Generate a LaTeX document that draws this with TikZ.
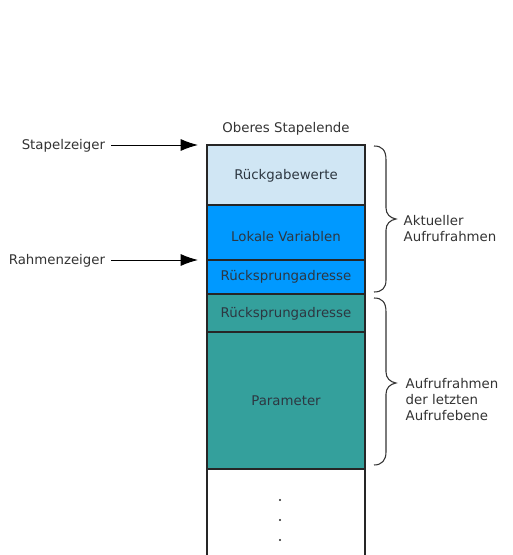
\documentclass[tikz,border=0pt]{standalone}
\usepackage{fontspec}
\setmainfont{DejaVu Sans}
\usetikzlibrary{arrows.meta}
\definecolor{hellblau}{RGB}{208,230,244}
\definecolor{blau}{RGB}{0,153,255}
\definecolor{petrol}{RGB}{52,160,156}
\definecolor{schrift}{RGB}{45,55,65}
\tikzset{
  feld/.style={draw=black!85,line width=0.8pt},
  feldtext/.style={font=\fontsize{10}{12}\selectfont,text=schrift},
  beschr/.style={font=\fontsize{10}{12}\selectfont,text=black!80,align=left},
  zeiger/.style={-{Latex[length=13pt,width=9pt]},line width=0.7pt,shorten <=2.5pt},
  klammer/.style={line width=0.8pt,black!80}
}
\begin{document}
\begin{tikzpicture}[x=0.75pt,y=0.75pt,yscale=-1,xscale=1]
\useasboundingbox (0,0) rectangle (512,555);
%Stapel
\path[feld,fill=hellblau] (207,145) rectangle (365,205);
\path[feld,fill=blau] (207,205) rectangle (365,260);
\path[feld,fill=blau] (207,260) rectangle (365,294);
\path[feld,fill=petrol] (207,294) rectangle (365,332);
\path[feld,fill=petrol] (207,332) rectangle (365,469);
\draw[feld] (207,469) -- (207,555);
\draw[feld] (365,469) -- (365,555);
%Beschriftung der Felder
\node[feldtext] (rueckgabe) at (286,176) {Rückgabewerte};
\node[feldtext] (lokal) at (286,237) {Lokale Variablen};
\node[feldtext] (ruecksprung) at (286,277) {Rücksprungadresse};
\node[feldtext] (ruecksprungalt) at (286,314) {Rücksprungadresse};
\node[feldtext] (parameter) at (286,401) {Parameter};
\node[beschr] (oben) at (286,129) {Oberes Stapelende};
%Punkte
\foreach \y in {500,520,540}
  \fill[black!85] (280,\y) circle (1.2);
%Zeiger
\node[beschr,anchor=east,inner sep=2pt] (stapelzeiger) at (108,146) {Stapelzeiger};
\node[beschr,anchor=east,inner sep=2pt] (rahmenzeiger) at (108,261) {Rahmenzeiger};
\coordinate (sz) at (198,145);
\coordinate (rz) at (198,260);
\draw[zeiger] (stapelzeiger.east |- sz) -- (sz);
\draw[zeiger] (rahmenzeiger.east |- rz) -- (rz);
%Klammern
\draw[klammer] (374,146) .. controls (382,146) and (386,150) .. (386,160)
  -- (386,208) .. controls (386,214) and (390,218) .. (396,219)
  .. controls (390,220) and (386,224) .. (386,230)
  -- (386,280) .. controls (386,288) and (382,292) .. (374,292);
\draw[klammer] (374,298) .. controls (382,298) and (386,302) .. (386,312)
  -- (386,372) .. controls (386,378) and (390,382) .. (396,383)
  .. controls (390,384) and (386,388) .. (386,394)
  -- (386,452) .. controls (386,460) and (382,465) .. (374,465);
\node[beschr,anchor=west] (aktuell) at (399,229) {Aktueller\\Aufrufrahmen};
\node[beschr,anchor=west] (letzte) at (401,400) {Aufrufrahmen\\der letzten\\Aufrufebene};
\end{tikzpicture}
\end{document}
